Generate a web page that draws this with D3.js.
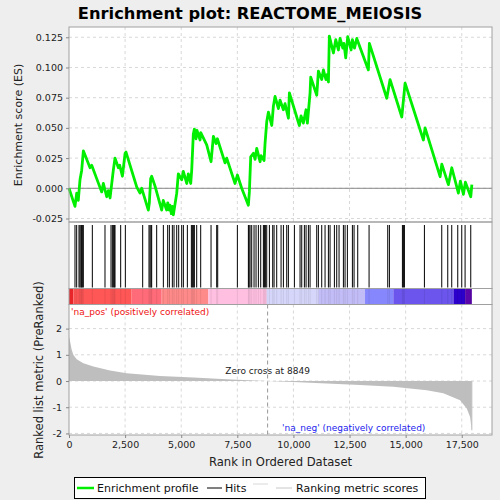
<html>
<head>
<meta charset="utf-8">
<script src="https://d3js.org/d3.v7.min.js"></script>
<style>
    body { margin: 0; background: #eeeeee; }
    svg { display: block; }
    text { font-family: "DejaVu Sans", sans-serif; }
    .grid line { stroke: #d8d8d8; stroke-dasharray: 3,3; }
    .axis text { font-size: 9.5px; fill: #222; }
    .axis line { stroke: #888; }
    .axis path { display: none; }
</style>
</head>
<body>
<div id="chart"></div>
<script>
    var N = 17950
    var zeroCross = 8849

    // ranks of the gene set members (hits)
    var hits = [267, 342, 446, 490, 535, 565, 594, 639, 1040, 1604, 1872, 1931, 1976, 2020, 2050,
        2303, 2511, 3283, 3565, 3610, 3655, 3684, 3907, 4204, 4397, 4472, 4605, 4680, 4799, 4888,
        5021, 5096, 5274, 5452, 5497, 5541, 5586, 5690, 5868, 6329, 6581, 6626, 7502, 7993, 8022,
        8067, 8141, 8245, 8334, 8438, 8542, 8661, 8706, 8750, 8810, 8929, 9077, 9137, 9255, 9449,
        9553, 9701, 9775, 10043, 10295, 10370, 10488, 10563, 10667, 10741, 11038, 11112, 11261,
        11409, 11558, 11632, 11825, 11929, 12033, 12226, 12300, 12404, 12627, 12702, 12865, 13370,
        14202, 14276, 14856, 14900, 14945, 15836, 16609, 16876, 17054, 17322, 17500, 17648, 17901]

    // running enrichment score
    var esRank = [0, 267, 343, 414, 490, 566, 640, 936, 1012, 1234, 1457, 1530, 1680, 1750, 1830,
        1975, 2050, 2200, 2260, 2380, 2500, 2540, 3020, 3165, 3240, 3535, 3580, 3640, 3684, 3830,
        4130, 4200, 4350, 4400, 4460, 4500, 4560, 4610, 4650, 4800, 4871, 5023, 5094, 5246, 5317,
        5424, 5468, 5540, 5586, 5660, 5700, 5840, 5870, 6136, 6330, 6433, 6551, 6611, 6952, 7027,
        7398, 7502, 7695, 7992, 8037, 8097, 8216, 8290, 8364, 8513, 8560, 8691, 8735, 8810, 8884,
        9034, 9107, 9181, 9330, 9404, 9552, 9627, 9776, 9820, 10264, 10340, 10443, 10562, 10622,
        10741, 10771, 11039, 11112, 11260, 11335, 11450, 11500, 11560, 11600, 11781, 11885, 12003,
        12078, 12200, 12250, 12330, 12419, 12568, 12627, 12720, 12822, 13339, 13384, 14159, 14306,
        14828, 14975, 15790, 15866, 16535, 16611, 16904, 17056, 17350, 17440, 17573, 17662, 17901, 17950]
    var esValue = [0.000, -0.015, -0.004, -0.010, 0.007, 0.015, 0.031, 0.017, 0.019, 0.008, -0.003,
        0.004, -0.007, -0.002, -0.008, 0.015, 0.025, 0.017, 0.019, 0.010, 0.029, 0.030, 0.001, -0.004,
        0.000, -0.018, -0.012, 0.008, 0.010, 0.002, -0.018, -0.010, -0.018, -0.012, -0.018, -0.014,
        -0.021, -0.015, -0.022, -0.004, 0.012, 0.007, 0.014, 0.004, 0.012, 0.004, 0.015, 0.045, 0.049,
        0.041, 0.048, 0.040, 0.046, 0.036, 0.022, 0.043, 0.037, 0.041, 0.021, 0.025, 0.004, 0.011,
        0.000, -0.014, -0.003, 0.026, 0.029, 0.024, 0.033, 0.022, 0.027, 0.023, 0.037, 0.055, 0.063,
        0.052, 0.068, 0.076, 0.066, 0.073, 0.065, 0.070, 0.058, 0.079, 0.052, 0.060, 0.054, 0.065,
        0.054, 0.079, 0.092, 0.077, 0.097, 0.090, 0.098, 0.090, 0.094, 0.088, 0.126, 0.112, 0.123,
        0.1145, 0.124, 0.116, 0.120, 0.108, 0.1255, 0.1145, 0.123, 0.116, 0.124, 0.098, 0.120, 0.0745,
        0.090, 0.059, 0.087, 0.040, 0.050, 0.0096, 0.020, 0.003, 0.017, -0.004, 0.006, -0.005, 0.005,
        -0.007, 0.003]

    // ranked list metric samples
    var metricRank = [0, 15, 120, 192, 343, 640, 1085, 1827, 2570, 4056, 5540, 7027, 8512, 8849,
        9997, 11484, 12969, 14454, 15941, 16680, 17426, 17723, 17872, 17945]
    var metricValue = [1.70, 1.65, 1.19, 1.00, 0.83, 0.68, 0.55, 0.40, 0.30, 0.19, 0.13, 0.065, 0.01,
        0, -0.04, -0.09, -0.15, -0.22, -0.35, -0.47, -0.73, -1.05, -1.37, -1.88]

    // colour band segments (start rank)
    var bandStart = [0, 190, 2790, 4130, 6210, 8810, 11110, 13190, 14450, 17130, 17650]
    var bandColor = ["#e8262a", "#ff5656", "#ff6b78", "#ff8a8a", "#ffbfe1", "#d6d6fa", "#c3bdf7",
        "#8787fd", "#6b55ec", "#2c00cc", "#5a06aa"]

    var esTicks = [-0.025, 0, 0.025, 0.05, 0.075, 0.1, 0.125]
    var metricTicks = [-2, -1, 0, 1, 2]
    var rankTicks = [0, 2500, 5000, 7500, 10000, 12500, 15000, 17500]

    var W = 500, H = 500
    var left = 69, right = 492
    var esTop = 27, esBottom = 222
    var hitBottom = 288.5
    var bandBottom = 304.5
    var metBottom = 435

    var fmt = d3.formatLocale({decimal: ".", thousands: ",", grouping: [3], currency: ["", ""], minus: "-"})

    var svg = d3.select("#chart").append("svg").attr("width", W).attr("height", H)

    var x = d3.scaleLinear().domain([0, N * 1.05]).range([left, right])
    var yES = d3.scaleLinear().domain([-0.0279, 0.1335]).range([esBottom, esTop])
    var yM = d3.scaleLinear().domain([-2.06, 2.92]).range([metBottom, bandBottom])

    svg.append("text")
        .attr("x", 250).attr("y", 19)
        .attr("text-anchor", "middle")
        .style("font-size", "16.3px").style("font-weight", "bold")
        .text("Enrichment plot: REACTOME_MEIOSIS")

    // panel backgrounds
    svg.append("rect").attr("x", left).attr("y", esTop)
        .attr("width", right - left).attr("height", metBottom - esTop).attr("fill", "white")

    // grids
    var gES = svg.append("g").attr("class", "grid")
    gES.selectAll(".v").data(rankTicks.slice(1)).join("line")
        .attr("x1", d => x(d)).attr("x2", d => x(d)).attr("y1", esTop).attr("y2", esBottom)
    gES.selectAll(".h").data(esTicks).join("line")
        .attr("x1", left).attr("x2", right).attr("y1", d => yES(d)).attr("y2", d => yES(d))

    var gM = svg.append("g").attr("class", "grid")
    gM.selectAll(".v").data(rankTicks.slice(1)).join("line")
        .attr("x1", d => x(d)).attr("x2", d => x(d)).attr("y1", bandBottom).attr("y2", metBottom)
    gM.selectAll(".h").data(metricTicks).join("line")
        .attr("x1", left).attr("x2", right).attr("y1", d => yM(d)).attr("y2", d => yM(d))

    // zero line of ES
    svg.append("line").attr("x1", left).attr("x2", right)
        .attr("y1", yES(0)).attr("y2", yES(0)).attr("stroke", "#888").attr("stroke-width", 1)

    // ES curve
    var esData = esRank.map((r, i) => [r, esValue[i]])
    svg.append("path").datum(esData)
        .attr("fill", "none").attr("stroke", "#00ee00").attr("stroke-width", 2.8)
        .attr("stroke-linejoin", "round")
        .attr("d", d3.line().x(d => x(d[0])).y(d => yES(d[1])))

    // hits
    svg.append("g").selectAll("line").data(hits).join("line")
        .attr("x1", d => x(d)).attr("x2", d => x(d))
        .attr("y1", esBottom + 3).attr("y2", hitBottom - 1)
        .attr("stroke", "black").attr("stroke-width", 1)

    // colour band
    svg.append("g").selectAll("rect").data(bandStart).join("rect")
        .attr("x", d => x(d))
        .attr("width", (d, i) => x(i < bandStart.length - 1 ? bandStart[i + 1] : N) - x(d))
        .attr("y", hitBottom).attr("height", bandBottom - hitBottom)
        .attr("fill", (d, i) => bandColor[i])
    svg.append("g").selectAll("line").data(hits).join("line")
        .attr("x1", d => x(d)).attr("x2", d => x(d))
        .attr("y1", hitBottom).attr("y2", bandBottom)
        .attr("stroke", "black").attr("stroke-opacity", 0.08)

    // metric area
    var mData = metricRank.map((r, i) => [r, metricValue[i]])
    svg.append("path").datum(mData)
        .attr("fill", "#bebebe")
        .attr("d", d3.area().x(d => x(d[0])).y0(yM(0)).y1(d => yM(d[1])))
    svg.append("line")
        .attr("x1", x(N)).attr("x2", x(N)).attr("y1", yM(0)).attr("y2", yM(-1.88))
        .attr("stroke", "#bebebe")

    // zero cross
    svg.append("line").attr("x1", x(zeroCross)).attr("x2", x(zeroCross))
        .attr("y1", bandBottom).attr("y2", metBottom)
        .attr("stroke", "#999").attr("stroke-dasharray", "4,3")
    svg.append("text").attr("x", x(zeroCross)).attr("y", 374)
        .attr("text-anchor", "middle").style("font-size", "9px").attr("fill", "#222")
        .text("Zero cross at " + zeroCross)

    svg.append("text").attr("x", 71).attr("y", 315)
        .style("font-size", "9px").attr("fill", "#ee1111")
        .text("'na_pos' (positively correlated)")
    svg.append("text").attr("x", 282).attr("y", 430.5)
        .style("font-size", "9px").attr("fill", "#2222ee")
        .text("'na_neg' (negatively correlated)")

    // panel borders
    var frame = [[esTop, esBottom], [esBottom, hitBottom], [hitBottom, bandBottom], [bandBottom, metBottom]]
    svg.append("g").selectAll("rect").data(frame).join("rect")
        .attr("x", left).attr("y", d => d[0]).attr("width", right - left).attr("height", d => d[1] - d[0])
        .attr("fill", "none").attr("stroke", "#a0a0a0")

    // axes
    svg.append("g").attr("class", "axis").attr("transform", `translate(${left},0)`)
        .call(d3.axisLeft(yES).tickValues(esTicks).tickFormat(fmt.format(".3f")).tickSize(3).tickPadding(3))
    svg.append("g").attr("class", "axis").attr("transform", `translate(${left},0)`)
        .call(d3.axisLeft(yM).tickValues(metricTicks).tickFormat(fmt.format("d")).tickSize(3).tickPadding(4))
    svg.append("g").attr("class", "axis").attr("transform", `translate(0,${metBottom})`)
        .call(d3.axisBottom(x).tickValues(rankTicks).tickFormat(fmt.format(",")).tickSize(3).tickPadding(3))

    svg.append("text").attr("transform", "translate(22,125) rotate(-90)")
        .attr("text-anchor", "middle").style("font-size", "11px").attr("fill", "#222")
        .text("Enrichment score (ES)")
    svg.append("text").attr("transform", "translate(43,370) rotate(-90)")
        .attr("text-anchor", "middle").style("font-size", "11.5px").attr("fill", "#222")
        .text("Ranked list metric (PreRanked)")
    svg.append("text").attr("x", x(N * 1.05 / 2)).attr("y", 466)
        .attr("text-anchor", "middle").style("font-size", "11.6px").attr("fill", "#222")
        .text("Rank in Ordered Dataset")

    // legend
    var lg = svg.append("g")
    lg.append("rect").attr("x", 74.5).attr("y", 477.5).attr("width", 351).attr("height", 21)
        .attr("fill", "white").attr("stroke", "black")
    var items = [
        {x1: 77, x2: 94, tx: 97, color: "#00ee00", w: 2.5, label: "Enrichment profile"},
        {x1: 207, x2: 222, tx: 225, color: "black", w: 1, label: "Hits"},
        {x1: 276, x2: 292, tx: 296, color: "#c8c8c8", w: 1, label: "Ranking metric scores"}
    ]
    lg.selectAll("line").data(items).join("line")
        .attr("x1", d => d.x1).attr("x2", d => d.x2).attr("y1", 488).attr("y2", 488)
        .attr("stroke", d => d.color).attr("stroke-width", d => d.w)
    lg.append("line").attr("x1", 253).attr("x2", 268).attr("y1", 484).attr("y2", 484)
        .attr("stroke", "#d8d8d8")
    lg.selectAll("text").data(items).join("text")
        .attr("x", d => d.tx).attr("y", 492)
        .style("font-size", "11px").attr("fill", "#111")
        .text(d => d.label)
</script>
</body>
</html>
